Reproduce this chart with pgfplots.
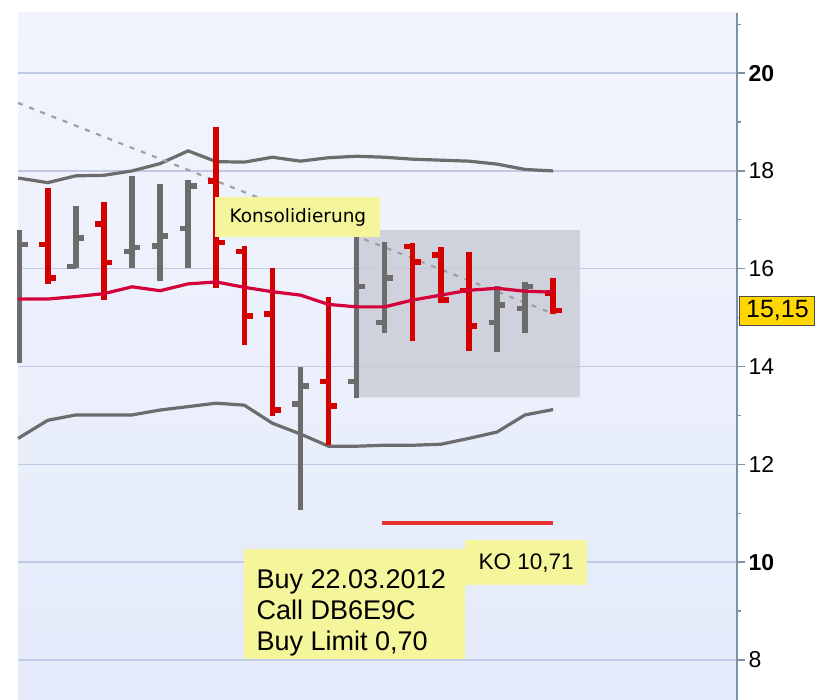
\documentclass[border=0pt]{standalone}
\usepackage{pgfplots}
\pgfplotsset{compat=1.18}
\usepackage{fontspec}
\setmainfont{Liberation Sans}
\newfontfamily\dejavu{DejaVu Sans}
\definecolor{bgtop}{RGB}{242,245,253}
\definecolor{bgbot}{RGB}{228,234,250}
\definecolor{gridc}{RGB}{192,202,228}
\definecolor{axisc}{RGB}{125,145,165}
\definecolor{barred}{RGB}{212,0,0}
\definecolor{bargray}{RGB}{108,108,108}
\definecolor{midred}{RGB}{212,0,58}
\definecolor{trend}{RGB}{160,160,160}
\definecolor{koline}{RGB}{232,50,50}
\definecolor{note}{RGB}{245,245,155}
\definecolor{consol}{RGB}{200,203,212}
\definecolor{pricebox}{RGB}{255,214,0}
\begin{document}
\begin{tikzpicture}[x=1pt,y=1pt]
\path[use as bounding box] (0,0) rectangle (827,700);
\begin{axis}[
  at={(18pt,0pt)}, anchor=south west,
  scale only axis, width=719pt, height=687pt,
  xmin=-0.06, xmax=25.55, ymin=7.18, ymax=21.23,
  axis x line=none, axis y line*=right,
  axis background/.style={top color=bgtop, bottom color=bgbot},
  xtick=\empty,
  ytick={8,10,...,20},
  yticklabels={8,\textbf{10},12,14,16,18,\textbf{20}},
  minor ytick={9,11,...,21},
  ymajorgrids, major grid style={gridc, line width=1.5pt},
  axis line style={axisc, line width=1.3pt},
  tick align=outside, major tick length=8pt, minor tick length=4pt,
  every tick/.style={axisc, line width=1.3pt},
  yticklabel style={font=\fontsize{23}{27}\selectfont, anchor=west},
  unbounded coords=jump, clip=false,
]
% consolidation rectangle
\addplot[fill=consol, fill opacity=0.8, draw=none] coordinates {(12.06,13.37)(19.96,13.37)(19.96,16.79)(12.06,16.79)(12.06,13.37)};
% bands
\addplot[bargray, line width=3.2pt] coordinates {(-0.06,17.85)(0,17.85)(1,17.76)(2,17.90)(3,17.91)(4,18.00)(5,18.15)(6,18.41)(7,18.19)(8,18.18)(9,18.28)(10,18.20)(11,18.27)(12,18.30)(13,18.28)(14,18.24)(15,18.22)(16,18.20)(17,18.14)(18,18.03)(19,18.00)};
\addplot[bargray, line width=3.2pt] coordinates {(-0.06,12.53)(0,12.55)(1,12.90)(2,13.01)(3,13.01)(4,13.01)(5,13.11)(6,13.18)(7,13.25)(8,13.21)(9,12.84)(10,12.62)(11,12.37)(12,12.37)(13,12.39)(14,12.39)(15,12.41)(16,12.53)(17,12.66)(18,13.01)(19,13.12)};
% trend line
\addplot[trend, line width=2.2pt, dash pattern=on 5pt off 7pt] coordinates {(-0.06,19.39)(19.05,15.07)};
% KO line
\addplot[koline, line width=3.2pt] coordinates {(12.92,10.80)(19.0,10.80)};
% gray (rising) bars
\addplot[bargray, line width=5.5pt, line cap=butt] coordinates {
(0,16.79)(0,14.07)(nan,nan)(0,16.50)(0.3,16.50)(nan,nan)
(2,17.29)(2,16.01)(nan,nan)(1.7,16.05)(2,16.05)(nan,nan)(2,16.63)(2.3,16.63)(nan,nan)
(4,17.90)(4,16.01)(nan,nan)(3.7,16.35)(4,16.35)(nan,nan)(4,16.43)(4.3,16.43)(nan,nan)
(5,17.74)(5,15.75)(nan,nan)(4.7,16.46)(5,16.46)(nan,nan)(5,16.67)(5.3,16.67)(nan,nan)
(6,17.81)(6,16.01)(nan,nan)(5.7,16.82)(6,16.82)(nan,nan)(6,17.69)(6.3,17.69)(nan,nan)
(10,13.99)(10,11.06)(nan,nan)(9.7,13.23)(10,13.23)(nan,nan)(10,13.60)(10.3,13.60)(nan,nan)
(12,16.79)(12,13.35)(nan,nan)(11.7,13.69)(12,13.69)(nan,nan)(12,15.64)(12.3,15.64)(nan,nan)
(13,16.55)(13,14.68)(nan,nan)(12.7,14.90)(13,14.90)(nan,nan)(13,15.81)(13.3,15.81)(nan,nan)
(17,15.64)(17,14.29)(nan,nan)(16.7,14.90)(17,14.90)(nan,nan)(17,15.26)(17.3,15.26)(nan,nan)
(18,15.73)(18,14.69)(nan,nan)(17.7,15.19)(18,15.19)(nan,nan)(18,15.64)(18.3,15.64)};
% red (falling) bars
\addplot[barred, line width=5.5pt, line cap=butt] coordinates {
(1,17.65)(1,15.69)(nan,nan)(0.7,16.50)(1,16.50)(nan,nan)(1,15.81)(1.3,15.81)(nan,nan)
(3,17.37)(3,15.36)(nan,nan)(2.7,16.91)(3,16.91)(nan,nan)(3,16.13)(3.3,16.13)(nan,nan)
(7,18.90)(7,15.60)(nan,nan)(6.7,17.79)(7,17.79)(nan,nan)(7,16.54)(7.3,16.54)(nan,nan)
(8,16.46)(8,14.44)(nan,nan)(7.7,16.35)(8,16.35)(nan,nan)(8,15.03)(8.3,15.03)(nan,nan)
(9,16.01)(9,12.99)(nan,nan)(8.7,15.07)(9,15.07)(nan,nan)(9,13.11)(9.3,13.11)(nan,nan)
(11,15.43)(11,12.39)(nan,nan)(10.7,13.69)(11,13.69)(nan,nan)(11,13.19)(11.3,13.19)(nan,nan)
(14,16.52)(14,14.52)(nan,nan)(13.7,16.45)(14,16.45)(nan,nan)(14,16.14)(14.3,16.14)(nan,nan)
(15,16.44)(15,15.29)(nan,nan)(14.7,16.28)(15,16.28)(nan,nan)(15,15.36)(15.3,15.36)(nan,nan)
(16,16.35)(16,14.31)(nan,nan)(15.7,15.55)(16,15.55)(nan,nan)(16,14.83)(16.3,14.83)(nan,nan)
(19,15.82)(19,15.07)(nan,nan)(18.7,15.50)(19,15.50)(nan,nan)(19,15.15)(19.3,15.15)};
% middle band
\addplot[midred, line width=3.2pt] coordinates {(-0.06,15.38)(0,15.38)(1,15.38)(2,15.43)(3,15.49)(4,15.63)(5,15.55)(6,15.69)(7,15.73)(8,15.62)(9,15.53)(10,15.46)(11,15.27)(12,15.22)(13,15.22)(14,15.36)(15,15.46)(16,15.56)(17,15.60)(18,15.54)(19,15.52)};
% annotations
\node[fill=note, minimum width=165pt, minimum height=40pt, inner sep=0pt, font=\dejavu\fontsize{18.5}{20}\selectfont] at (axis cs:9.91,17.05) {Konsolidierung};
\node[fill=note, minimum width=221pt, minimum height=110pt, inner sep=0pt] at (axis cs:11.94,9.14) {};
\node[fill=note, minimum width=122pt, minimum height=45pt, inner sep=0pt, font=\fontsize{22.5}{25}\selectfont] at (axis cs:18.04,9.99) {KO 10,71};
\node[anchor=north west, inner sep=0pt, align=left, font=\fontsize{27}{31}\selectfont] at (axis cs:8.434,9.857) {Buy 22.03.2012\\Call DB6E9C\\Buy Limit 0,70};
\node[fill=pricebox, draw=black!70, line width=1pt, minimum width=75pt, minimum height=29pt, inner sep=0pt, font=\fontsize{25}{27}\selectfont] at (axis cs:26.99,15.14) {15,15};
\end{axis}
\end{tikzpicture}
\end{document}
